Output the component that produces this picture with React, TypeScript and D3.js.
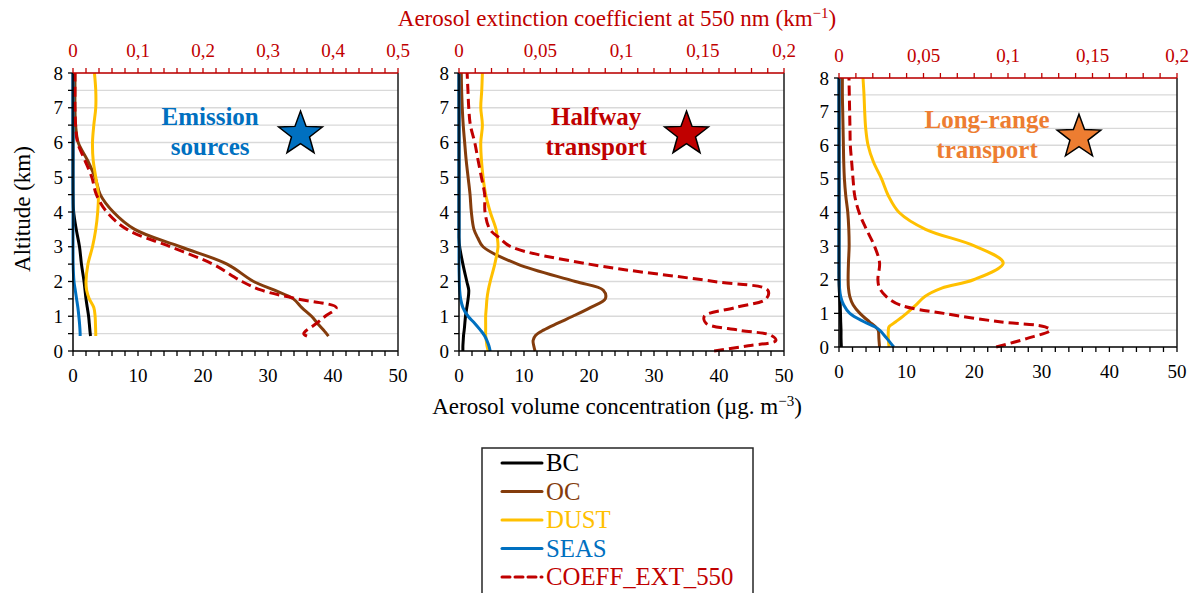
import React from "react";
import * as d3 from "d3";

// ---------- DATA ----------
const altitudeTicks = [0, 1, 2, 3, 4, 5, 6, 7, 8];
const concTicks = [0, 10, 20, 30, 40, 50];

// Panel 1 : Emission sources
const alt1 = [0.43, 0.5, 0.8, 1.0, 1.25, 1.5, 1.75, 2.0, 2.5, 3.0, 3.5, 4.0, 4.5, 5.0, 5.5, 6.0, 6.5, 7.0, 7.5, 8.0];
const bc1 = [2.7, 2.65, 2.5, 2.4, 2.2, 2.0, 1.85, 1.7, 1.3, 1.0, 0.5, 0.1, 0.02, 0, 0, 0, 0, 0, 0, 0];
const oc1 = [39.3, 39.0, 37.6, 36.7, 35.2, 33.9, 31.0, 27.8, 23.7, 16.5, 9.5, 6.2, 4.2, 3.4, 2.2, 0.8, 0.4, 0.3, 0.3, 0.3];
const dust1 = [3.5, 3.5, 3.45, 3.4, 3.2, 2.5, 2.1, 2.0, 2.3, 3.0, 3.5, 3.8, 3.9, 3.5, 3.1, 3.0, 3.2, 3.5, 3.5, 3.3];
const seas1 = [1.1, 1.1, 1.0, 0.9, 0.75, 0.55, 0.35, 0.15, 0.02, 0, 0, 0, 0, 0, 0, 0, 0, 0, 0, 0];
const ext1 = [0.36, 0.355, 0.375, 0.388, 0.405, 0.345, 0.29, 0.26, 0.215, 0.15, 0.083, 0.052, 0.036, 0.029, 0.018, 0.007, 0.004, 0.003, 0.003, 0.003];

// Panel 2 : Halfway transport
const alt2 = [0, 0.15, 0.3, 0.45, 0.6, 0.8, 1.0, 1.25, 1.5, 1.75, 2.0, 2.5, 3.0, 3.25, 3.5, 4.0, 4.5, 5.0, 5.5, 6.0, 6.5, 7.0, 7.5, 8.0];
const bc2 = [0.6, 0.6, 0.65, 0.7, 0.8, 0.9, 1.0, 1.2, 1.4, 1.5, 1.2, 0.6, 0.1, 0, 0, 0, 0, 0, 0, 0, 0, 0, 0, 0];
const oc2 = [11.7, 11.5, 11.4, 11.8, 13.0, 15.2, 17.5, 20.2, 22.5, 22.2, 17.9, 9.0, 3.7, 2.9, 2.3, 1.9, 1.7, 1.4, 1.1, 0.87, 0.65, 0.5, 0.4, 0.35];
const dust2 = [4.5, 4.3, 4.2, 4.1, 4.1, 4.1, 4.1, 4.2, 4.3, 4.5, 4.8, 5.5, 6.0, 5.9, 5.7, 4.8, 4.1, 3.7, 3.45, 3.35, 3.6, 3.35, 3.5, 3.6];
const seas2 = [4.8, 4.6, 4.3, 3.9, 3.3, 2.4, 1.4, 0.6, 0.25, 0.1, 0.05, 0, 0, 0, 0, 0, 0, 0, 0, 0, 0, 0, 0, 0];
const ext2 = [0.157, 0.178, 0.195, 0.192, 0.172, 0.152, 0.151, 0.17, 0.189, 0.19, 0.157, 0.08, 0.032, 0.025, 0.019, 0.016, 0.0158, 0.0138, 0.0117, 0.0097, 0.007, 0.006, 0.0055, 0.005];

// Panel 3 : Long-range transport
const alt3 = [0, 0.25, 0.5, 0.6, 0.75, 1.0, 1.25, 1.5, 1.75, 2.0, 2.5, 3.0, 3.5, 4.0, 4.5, 5.0, 5.5, 6.0, 6.5, 7.0, 7.5, 8.0];
const bc3 = [0.35, 0.3, 0.3, 0.28, 0.25, 0.22, 0.18, 0.1, 0.03, 0, 0, 0, 0, 0, 0, 0, 0, 0, 0, 0, 0, 0];
const oc3 = [6.0, 5.9, 5.8, 5.4, 4.5, 3.1, 2.1, 1.6, 1.4, 1.35, 1.4, 1.5, 1.45, 1.3, 1.0, 0.8, 0.7, 0.65, 0.6, 0.55, 0.5, 0.5];
const dust3 = [7.4, 7.3, 7.3, 7.4, 8.4, 10.0, 11.4, 12.7, 15.2, 19.9, 24.3, 20.1, 12.8, 8.9, 7.3, 6.3, 5.1, 4.3, 3.95, 3.8, 3.7, 3.55];
const seas3 = [8.1, 7.1, 6.0, 5.3, 3.7, 1.6, 0.7, 0.25, 0.08, 0.03, 0, 0, 0, 0, 0, 0, 0, 0, 0, 0, 0, 0];
const ext3 = [0.093, 0.111, 0.125, 0.122, 0.095, 0.062, 0.036, 0.028, 0.024, 0.023, 0.024, 0.021, 0.0162, 0.0119, 0.0093, 0.0083, 0.0075, 0.0067, 0.0065, 0.0063, 0.0061, 0.0059];

const seriesNames = ["BC", "OC", "DUST", "SEAS", "COEFF_EXT_550"];
const seriesColors = ["#000000", "#843C0C", "#FFC000", "#0070C0", "#C00000"];

const panelTitles = [["Emission", "sources"], ["Halfway", "transport"], ["Long-range", "transport"]];
const panelColors = ["#0070C0", "#C00000", "#ED7D31"];
const extMax = [0.5, 0.2, 0.2];
const extMajor = [0.1, 0.05, 0.05];

// ---------- LAYOUT ----------
const FONT = "'Liberation Serif', 'Times New Roman', serif";
const RED = "#C00000";
const panelBoxes = [
  { left: 73, right: 398, top: 73, bottom: 351 },
  { left: 459, right: 784, top: 73, bottom: 351 },
  { left: 839, right: 1177, top: 78, bottom: 347 },
];
const panelData = [
  { alt: alt1, vals: [bc1, oc1, dust1, seas1], ext: ext1 },
  { alt: alt2, vals: [bc2, oc2, dust2, seas2], ext: ext2 },
  { alt: alt3, vals: [bc3, oc3, dust3, seas3], ext: ext3 },
];

const fmt = (v: number) => d3.format("~g")(+v.toFixed(4)).replace(".", ",");

function starPath(cx: number, cy: number, R: number, r: number) {
  const pts: [number, number][] = [];
  for (let i = 0; i < 10; i++) {
    const a = -Math.PI / 2 + (i * Math.PI) / 5;
    const rad = i % 2 === 0 ? R : r;
    pts.push([cx + rad * Math.cos(a), cy + rad * Math.sin(a)]);
  }
  return d3.line()(pts) + "Z";
}

function Panel({ idx }: { idx: number }) {
  const b = panelBoxes[idx];
  const d = panelData[idx];
  const x = d3.scaleLinear().domain([0, 50]).range([b.left, b.right]);
  const xt = d3.scaleLinear().domain([0, extMax[idx]]).range([b.left, b.right]);
  const y = d3.scaleLinear().domain([0, 8]).range([b.bottom, b.top]);
  const grid = d3.range(0.5, 8.01, 0.5);
  const minorY = d3.range(0, 8.01, 0.5);
  const minorX = d3.range(0, 50.01, 2);
  const extStep = extMajor[idx] / 5;
  const minorT = d3.range(0, Math.round(extMax[idx] / extStep) + 1).map((i) => i * extStep);
  const majorT = d3.range(0, Math.round(extMax[idx] / extMajor[idx]) + 1).map((i) => i * extMajor[idx]);

  const lineGen = (sx: d3.ScaleLinear<number, number>, vals: number[]) =>
    d3
      .line<number>()
      .x((v) => sx(v))
      .y((_, i) => y(d.alt[i]))
      .curve(d3.curveCatmullRom.alpha(0.5))(vals) as string;

  const starX = x(idx === 2 ? 35.5 : 35);
  const starY = y(6.3) + 2;
  const labelX = x(idx === 2 ? 21.9 : 21.1);

  return (
    <g>
      {grid.map((g) => (
        <line key={"g" + g} x1={b.left} x2={b.right} y1={y(g)} y2={y(g)} stroke="#D9D9D9" strokeWidth={1.3} />
      ))}
      {/* series */}
      {d.vals.map((vals, i) => (
        <path key={"s" + i} d={lineGen(x, vals)} fill="none" stroke={seriesColors[i]} strokeWidth={3} strokeLinejoin="round" />
      ))}
      <path d={lineGen(xt, d.ext)} fill="none" stroke={seriesColors[4]} strokeWidth={3} strokeDasharray="10,5" />
      {/* left axis */}
      <line x1={b.left} x2={b.left} y1={b.top} y2={b.bottom} stroke="#000" strokeWidth={1.5} />
      {minorY.map((t) => (
        <line key={"yt" + t} x1={b.left - 5} x2={b.left} y1={y(t)} y2={y(t)} stroke="#000" strokeWidth={1.3} />
      ))}
      {altitudeTicks.map((t) => (
        <text key={"yl" + t} x={b.left - 10} y={y(t) + 6.5} textAnchor="end" fontSize={19} fontFamily={FONT} fill="#000">
          {t}
        </text>
      ))}
      {/* bottom axis */}
      <line x1={b.left} x2={b.right} y1={b.bottom} y2={b.bottom} stroke="#000" strokeWidth={1.5} />
      {minorX.map((t) => (
        <line key={"xt" + t} x1={x(t)} x2={x(t)} y1={b.bottom} y2={b.bottom + 5} stroke="#000" strokeWidth={1.3} />
      ))}
      {concTicks.map((t) => (
        <text key={"xl" + t} x={x(t)} y={b.bottom + 31} textAnchor="middle" fontSize={19} fontFamily={FONT} fill="#000">
          {t}
        </text>
      ))}
      {/* right border */}
      <line x1={b.right} x2={b.right} y1={b.top} y2={b.bottom} stroke="#1a1a1a" strokeWidth={1.5} />
      {/* top axis */}
      <line x1={b.left} x2={b.right} y1={b.top} y2={b.top} stroke={RED} strokeWidth={1.5} />
      {minorT.map((t, i) => (
        <line key={"tt" + i} x1={xt(t)} x2={xt(t)} y1={b.top - 5} y2={b.top} stroke={RED} strokeWidth={1.3} />
      ))}
      {majorT.map((t, i) => (
        <text key={"tl" + i} x={xt(t)} y={b.top - 16} textAnchor="middle" fontSize={19} fontFamily={FONT} fill={RED}>
          {fmt(t)}
        </text>
      ))}
      {/* panel label */}
      <text x={labelX} y={y(6.3) - 7} textAnchor="middle" fontSize={25} fontWeight="bold" fontFamily={FONT} fill={panelColors[idx]}>
        {panelTitles[idx][0]}
      </text>
      <text x={labelX} y={y(6.3) + 23} textAnchor="middle" fontSize={25} fontWeight="bold" fontFamily={FONT} fill={panelColors[idx]}>
        {panelTitles[idx][1]}
      </text>
      <path d={starPath(starX, starY, 23, 9.5)} fill={panelColors[idx]} stroke="#000" strokeWidth={1.5} strokeLinejoin="miter" />
    </g>
  );
}

function Legend() {
  const lx = 482;
  const ly = 448;
  const rowY = (i: number) => 463 + i * 28.5;
  return (
    <g>
      <rect x={lx} y={ly} width={271} height={160} fill="#fff" stroke="#262626" strokeWidth={1.5} />
      {seriesNames.map((n, i) => (
        <g key={n}>
          <line
            x1={502}
            x2={542}
            y1={rowY(i)}
            y2={rowY(i)}
            stroke={seriesColors[i]}
            strokeWidth={3}
            strokeLinecap="round"
            strokeDasharray={i === 4 ? "8,5" : undefined}
          />
          <text x={546} y={rowY(i) + 8} fontSize={24.8} fontFamily={FONT} fill={seriesColors[i]}>
            {n}
          </text>
        </g>
      ))}
    </g>
  );
}

export default function App() {
  return (
    <svg width={1199} height={593} style={{ position: "absolute", left: 0, top: 0, background: "#fff" }}>
      <rect x={0} y={0} width={1199} height={593} fill="#fff" />
      {[0, 1, 2].map((i) => (
        <Panel key={i} idx={i} />
      ))}
      <text x={617} y={26} textAnchor="middle" fontSize={23} fontFamily={FONT} fill={RED}>
        Aerosol extinction coefficient at 550 nm (km
        <tspan dy={-8} fontSize={15}>−1</tspan>
        <tspan dy={8}>)</tspan>
      </text>
      <text x={617} y={414} textAnchor="middle" fontSize={23} fontFamily={FONT} fill="#000">
        Aerosol volume concentration (µg. m
        <tspan dy={-8} fontSize={15}>−3</tspan>
        <tspan dy={8}>)</tspan>
      </text>
      <text x={30} y={209} transform="rotate(-90 30 209)" textAnchor="middle" fontSize={23} fontFamily={FONT} fill="#000">
        Altitude (km)
      </text>
      <Legend />
    </svg>
  );
}
